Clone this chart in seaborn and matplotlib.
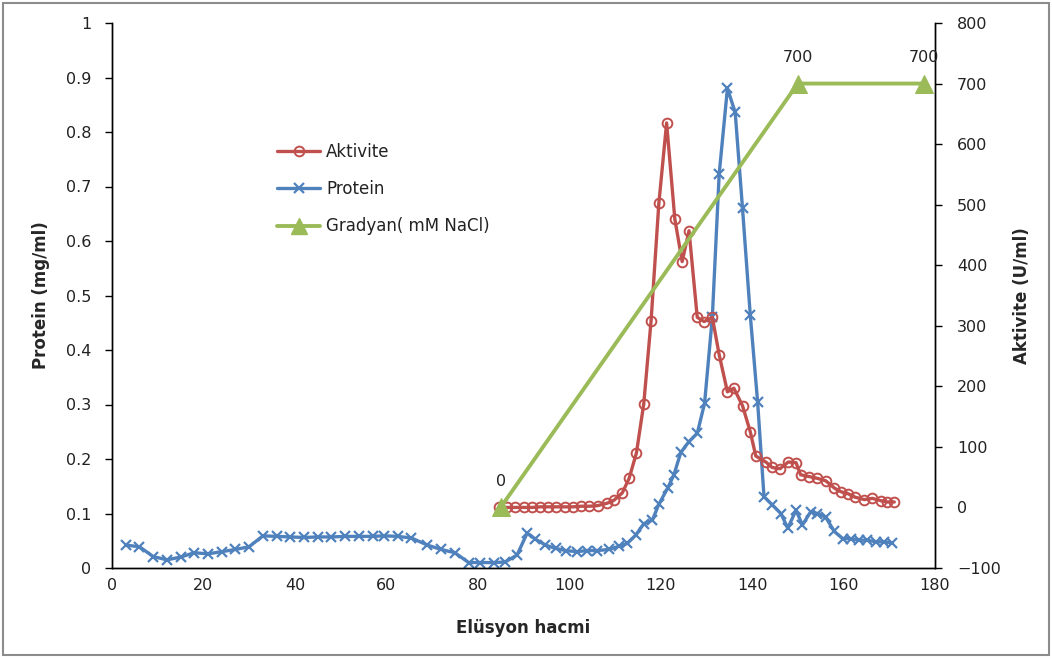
import numpy as np
import pandas as pd
import seaborn as sns
import matplotlib.pyplot as plt
from matplotlib.lines import Line2D
from matplotlib.patches import Rectangle

# Elution volume (ml) and protein concentration (mg/ml)
protein_x = [3, 6, 9, 12, 15, 18, 21, 24, 27, 30, 33, 36, 39, 42, 45, 48, 51, 54, 57,
             59.5, 62.5, 65.5, 69, 72, 75, 78, 80.5, 83.5, 86, 88.6, 90.8, 92.6, 94.8,
             97, 99.2, 101.7, 103.9, 106.1, 108.7, 110.9, 112.7, 114.5, 116.3, 118.2,
             119.6, 121.5, 122.9, 124.4, 126.2, 128, 129.6, 131.3, 132.8, 134.6, 136.3,
             137.9, 139.6, 141.2, 142.6, 144.4, 146.3, 147.8, 149.6, 151, 152.8, 154.3,
             156.1, 158, 159.8, 161.6, 163.4, 165.2, 167.1, 168.9, 170.7]
protein_y = [0.042, 0.039, 0.021, 0.015, 0.020, 0.028, 0.026, 0.030, 0.034, 0.039,
             0.059, 0.058, 0.057, 0.056, 0.057, 0.057, 0.058, 0.058, 0.058, 0.059,
             0.058, 0.055, 0.042, 0.034, 0.028, 0.010, 0.010, 0.010, 0.011, 0.024,
             0.064, 0.053, 0.042, 0.036, 0.032, 0.030, 0.032, 0.032, 0.034, 0.040,
             0.045, 0.060, 0.081, 0.088, 0.117, 0.146, 0.171, 0.212, 0.232, 0.247,
             0.302, 0.460, 0.723, 0.880, 0.836, 0.660, 0.464, 0.305, 0.131, 0.116,
             0.100, 0.073, 0.106, 0.079, 0.103, 0.100, 0.093, 0.067, 0.054, 0.054,
             0.051, 0.051, 0.048, 0.048, 0.046]

# Enzyme activity (U/ml)
aktivite_x = [84.6, 86.4, 88.2, 90.0, 91.8, 93.6, 95.4, 97.2, 99.0, 100.8, 102.6, 104.4,
              106.2, 108.3, 109.8, 111.6, 113.1, 114.7, 116.3, 117.9, 119.6, 121.3,
              123.1, 124.7, 126.2, 128.0, 129.5, 131.3, 132.8, 134.6, 136.0, 137.9,
              139.6, 140.8, 143.0, 144.4, 146.1, 147.9, 149.6, 150.6, 152.5, 154.3,
              156.1, 158.0, 159.4, 160.9, 162.5, 164.5, 166.3, 168.2, 169.6, 171.1]
aktivite_y = [0, 0, 0, 0, 0, 1, 1, 1, 1, 1, 2, 2, 3, 7, 12, 24, 48, 90, 171, 308, 502,
              635, 476, 406, 457, 314, 307, 314, 252, 191, 197, 168, 125, 85, 75, 66,
              64, 75, 74, 54, 51, 48, 44, 32, 26, 23, 17, 13, 15, 11, 9, 9]

# NaCl gradient (mM)
gradyan_x = [85, 150, 177.5]
gradyan_y = [0, 700, 700]

RED = "#C0504D"
BLUE = "#4F81BD"
GREEN = "#9BBB59"

sns.set_style("white")
plt.rcParams["font.family"] = ["DejaVu Sans"]

W, H = 1052, 659
fig = plt.figure(figsize=(W / 100, H / 100), dpi=100)
ax = fig.add_axes([112 / W, (H - 568) / H, (935 - 112) / W, 545 / H])
ax2 = ax.twinx()

prot_df = pd.DataFrame({"x": protein_x, "y": protein_y})
akt_df = pd.DataFrame({"x": aktivite_x, "y": aktivite_y})
grad_df = pd.DataFrame({"x": gradyan_x, "y": gradyan_y})

sns.lineplot(data=prot_df, x="x", y="y", ax=ax, color=BLUE, lw=2.4,
             marker="x", markersize=7, markeredgewidth=1.6, markeredgecolor=BLUE,
             zorder=2)
sns.lineplot(data=akt_df, x="x", y="y", ax=ax2, color=RED, lw=2.4,
             marker="o", markersize=7, markerfacecolor="none",
             markeredgewidth=1.4, markeredgecolor=RED, zorder=3)
sns.lineplot(data=grad_df, x="x", y="y", ax=ax2, color=GREEN, lw=2.8,
             marker="^", markersize=13, markeredgecolor=GREEN, zorder=4)

for gx, gy in zip(gradyan_x, gradyan_y):
    ax2.annotate(f"{gy:g}", (gx, gy), xytext=(0, 13), textcoords="offset points",
                 ha="center", va="bottom", fontsize=11.5, color="#222222")

ax.set_xlim(0, 180)
ax.set_ylim(0, 1)
ax2.set_ylim(-100, 800)
ax.set_xticks(range(0, 181, 20))
yt = np.round(np.arange(0, 1.01, 0.1), 1)
ax.set_yticks(yt)
ax.set_yticklabels([f"{v:g}" for v in yt])
ax2.set_yticks(range(-100, 801, 100))

for a in (ax, ax2):
    a.spines["top"].set_visible(False)
    for s in ("left", "right", "bottom"):
        a.spines[s].set_color("black")
        a.spines[s].set_linewidth(1.0)
    a.tick_params(direction="out", length=5, width=1, labelsize=11.5,
                  colors="black", labelcolor="#222222")
ax.tick_params(axis="x", pad=2)
ax.tick_params(axis="y", pad=10)
ax2.tick_params(axis="y", pad=11)
ax.grid(False)
ax2.grid(False)

ax.set_xlabel("Elüsyon hacmi", fontsize=12, fontweight="bold")
ax.set_ylabel("Protein (mg/ml)", fontsize=12, fontweight="bold")
ax2.set_ylabel("Aktivite (U/ml)", fontsize=12, fontweight="bold")
ax.xaxis.set_label_coords(0.5, -0.093)
ax.yaxis.set_label_coords(-0.075, 0.5)
ax2.yaxis.set_label_coords(1.095, 0.5)

handles = [
    Line2D([], [], color=RED, lw=2.4, marker="o", markersize=7,
           markerfacecolor="none", markeredgecolor=RED, markeredgewidth=1.4),
    Line2D([], [], color=BLUE, lw=2.4, marker="x", markersize=7,
           markeredgewidth=1.6),
    Line2D([], [], color=GREEN, lw=2.8, marker="^", markersize=11),
]
leg = ax2.legend(handles, ["Aktivite", "Protein", "Gradyan( mM NaCl)"],
                 loc="upper left", bbox_to_anchor=(262 / W, 1 - 128 / H),
                 bbox_transform=fig.transFigure, frameon=False, fontsize=12,
                 handlelength=2.6, handletextpad=0.35, labelspacing=1.15)
for t in leg.get_texts():
    t.set_color("#222222")

fig.patches.append(Rectangle((3 / W, 4 / H), 1 - 6 / W, 1 - 7 / H,
                             transform=fig.transFigure, fill=False,
                             edgecolor="#8C8C8C", lw=1.5))

fig.savefig("out.png", dpi=100)
